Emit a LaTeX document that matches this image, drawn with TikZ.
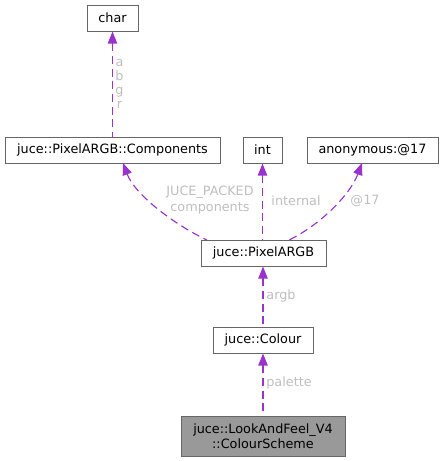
\documentclass[tikz,border=0pt]{standalone}
\usepackage{fontspec}
\setmainfont{DejaVu Sans}
\usetikzlibrary{calc, arrows.meta}

\definecolor{edgepurple}{HTML}{9A32CD}
\definecolor{labelgrey}{HTML}{BEBEBE}
\definecolor{boxgrey}{HTML}{666666}
\definecolor{fillgrey}{HTML}{999999}

\begin{document}
\begin{tikzpicture}[
  x=0.75pt, y=-0.75pt,
  font=\fontsize{9.6}{11.5}\selectfont,
  box/.style={draw=boxgrey, fill=white, line width=0.75pt, inner sep=0pt,
    minimum height=26*0.75pt, minimum width=#1*0.75pt, align=center},
  edge/.style={edgepurple, line width=0.85pt, dash pattern=on 6pt off 3.5pt,
    {Triangle[length=9pt, width=7pt]}-},
  lbl/.style={labelgrey, inner sep=0pt, align=center},
]

\useasboundingbox (0,0) rectangle (443,461);

% class boxes
\node[box=51]  (char)   at (112.5,18)  {char};
\node[box=215] (comp)   at (112.5,150) {juce::PixelARGB::Components};
\node[box=39]  (int)    at (262.5,150) {int};
\node[box=131] (anon)   at (372.5,150) {anonymous:@17};
\node[box=125] (pargb)  at (263.5,253) {juce::PixelARGB};
\node[box=100] (colour) at (263,340)   {juce::Colour};
\node[box=164, minimum height=40*0.75pt, fill=fillgrey] (scheme) at (263,436)
  {juce::LookAndFeel\_V4\\::ColourScheme};

% char <- Components
\draw[edge] (char.south) -- (char.south |- comp.north);
\node[lbl, font=\fontsize{9.6}{10.6}\selectfont] (labc) at (119.5,84) {a\\b\\g\\r};

% Components <- PixelARGB
\coordinate (c1) at (123,163);
\coordinate (p1) at (207,240);
\draw[edge] (c1) .. controls (135,195) and (175,225) .. (p1);
\node[lbl] (labp) at (210,200) {JUCE\_PACKED\\components};

% int <- PixelARGB
\draw[edge] (int.south) -- (int.south |- pargb.north);
\node[lbl] (labi) at (296,201) {internal};

% anonymous <- PixelARGB
\coordinate (a1) at (362,163);
\coordinate (p2) at (289,240);
\draw[edge] (a1) .. controls (350,195) and (320,225) .. (p2);
\node[lbl] (laba) at (365,201) {@17};

% PixelARGB <- Colour
\draw[edge] (pargb.south -| colour.north) -- (colour.north);
\node[lbl] (labg) at (281,296) {argb};

% Colour <- ColourScheme
\draw[edge] (colour.south) -- (colour.south |- scheme.north);
\node[lbl] (labl) at (289,383) {palette};

\end{tikzpicture}
\end{document}
